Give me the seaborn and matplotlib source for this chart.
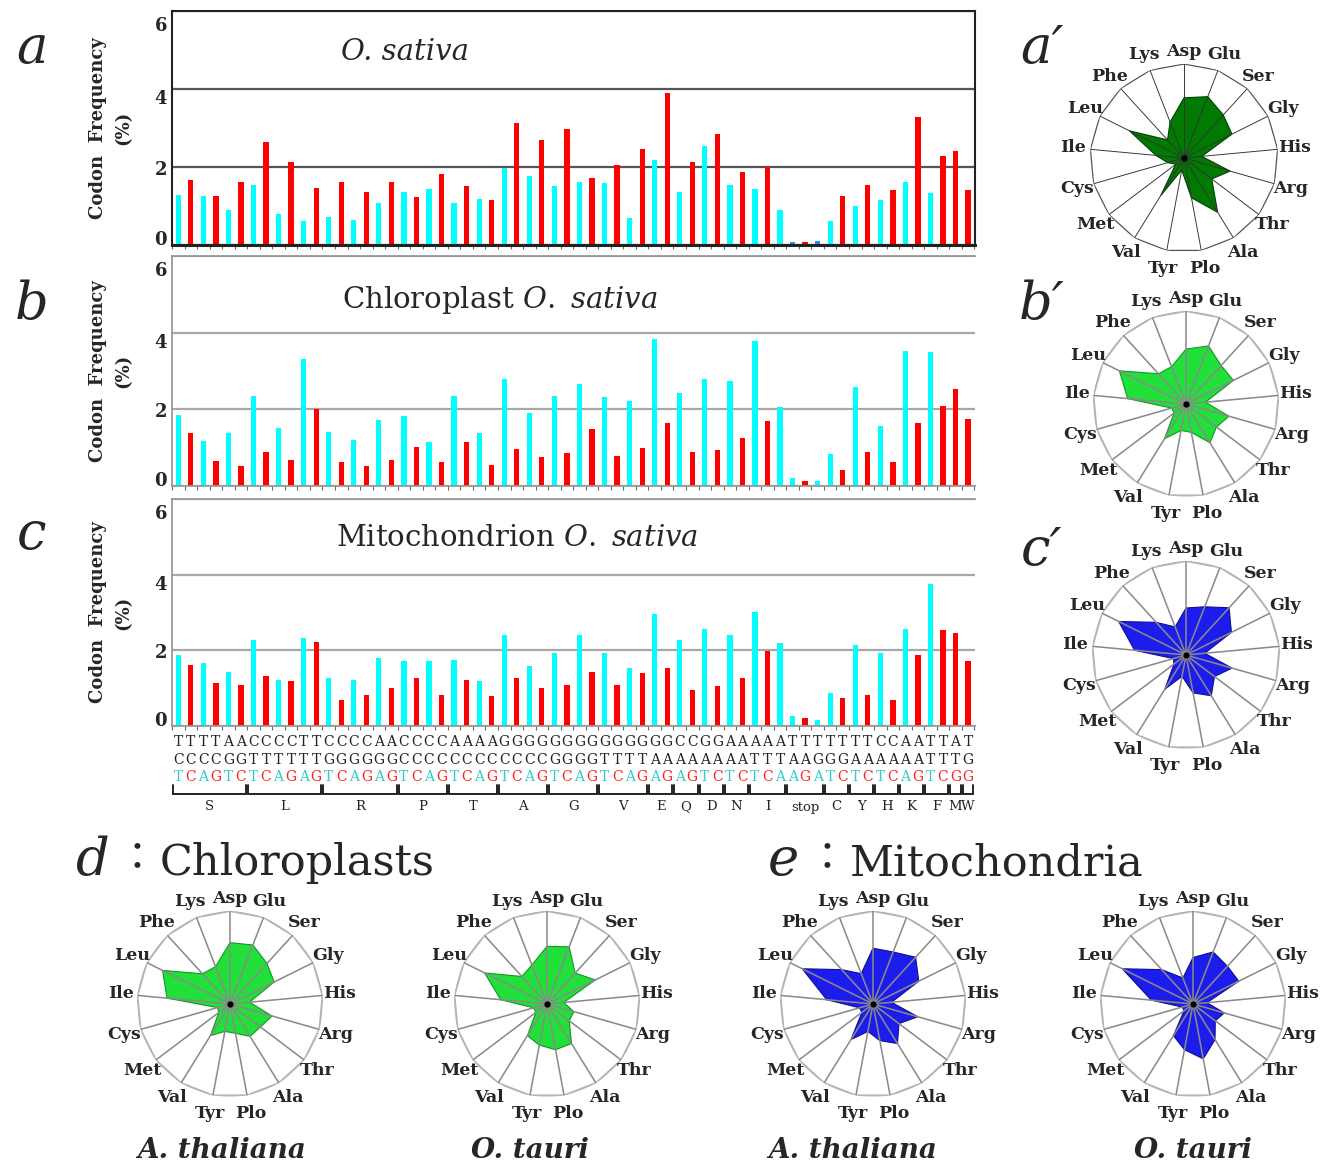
import numpy as np
import pandas as pd
import matplotlib
matplotlib.use("Agg")
import matplotlib.pyplot as plt
from matplotlib.transforms import blended_transform_factory, ScaledTranslation
import seaborn as sns

sns.set_theme(style="white")
plt.rcParams['font.family'] = ['DejaVu Serif', 'Noto Sans CJK JP']
plt.rcParams['mathtext.fontset'] = 'dejavuserif'

# ---------------------------------------------------------------- data
codons = ["TCT", "TCC", "TCA", "TCG", "AGT", "AGC",
          "CTT", "CTC", "CTA", "CTG", "TTA", "TTG",
          "CGT", "CGC", "CGA", "CGG", "AGA", "AGG",
          "CCT", "CCC", "CCA", "CCG",
          "ACT", "ACC", "ACA", "ACG",
          "GCT", "GCC", "GCA", "GCG",
          "GGT", "GGC", "GGA", "GGG",
          "GTT", "GTC", "GTA", "GTG",
          "GAA", "GAG", "CAA", "CAG", "GAT", "GAC", "AAT", "AAC",
          "ATT", "ATC", "ATA", "TAA", "TAG", "TGA",
          "TGT", "TGC", "TAT", "TAC", "CAT", "CAC", "AAA", "AAG",
          "TTT", "TTC", "ATG", "TGG"]

aa_groups = ["S", "L", "R", "P", "T", "A", "G", "V", "E", "Q", "D", "N",
             "I", "stop", "C", "Y", "H", "K", "F", "M", "W"]
aa_sizes = [6, 6, 6, 4, 4, 4, 4, 4, 2, 2, 2, 2, 3, 3, 2, 2, 2, 2, 2, 1, 1]

freq_nuclear = [1.29, 1.66, 1.26, 1.26, 0.90, 1.62, 1.54, 2.63, 0.79, 2.12,
                0.61, 1.47, 0.72, 1.62, 0.65, 1.36, 1.08, 1.62, 1.36, 1.22,
                1.44, 1.83, 1.08, 1.51, 1.19, 1.16, 1.98, 3.13, 1.76, 2.69,
                1.51, 2.98, 1.62, 1.72, 1.58, 2.05, 0.69, 2.45, 2.19, 3.91,
                1.36, 2.12, 2.55, 2.84, 1.54, 1.87, 1.44, 2.00, 0.90, 0.08,
                0.08, 0.11, 0.61, 1.26, 1.01, 1.54, 1.16, 1.41, 1.62, 3.27,
                1.33, 2.27, 2.41, 1.41]

freq_chloroplast = [1.86, 1.38, 1.17, 0.65, 1.38, 0.51, 2.35, 0.90, 1.52, 0.69,
                    3.32, 2.00, 1.42, 0.62, 1.21, 0.51, 1.73, 0.69, 1.83, 1.03,
                    1.14, 0.62, 2.35, 1.14, 1.38, 0.55, 2.80, 0.97, 1.90, 0.76,
                    2.35, 0.86, 2.66, 1.49, 2.31, 0.79, 2.21, 1.00, 3.84, 1.65,
                    2.42, 0.90, 2.80, 0.93, 2.73, 1.24, 3.77, 1.70, 2.07, 0.20,
                    0.13, 0.13, 0.83, 0.41, 2.59, 0.90, 1.56, 0.62, 3.53, 1.65,
                    3.50, 2.10, 2.52, 1.76]

freq_mito = [1.88, 1.62, 1.67, 1.14, 1.44, 1.09, 2.28, 1.31, 1.22, 1.18,
             2.32, 2.23, 1.27, 0.70, 1.22, 0.83, 1.80, 1.00, 1.71, 1.27,
             1.71, 0.83, 1.75, 1.22, 1.18, 0.78, 2.41, 1.27, 1.58, 1.00,
             1.92, 1.09, 2.41, 1.44, 1.92, 1.09, 1.53, 1.40, 2.97, 1.53,
             2.27, 0.96, 2.57, 1.05, 2.41, 1.27, 3.01, 1.97, 2.19, 0.26,
             0.22, 0.17, 0.87, 0.74, 2.14, 0.83, 1.92, 0.70, 2.57, 1.88,
             3.76, 2.54, 2.45, 1.71]

y_ticks = [0, 2, 4, 6]

aa_labels = ["Asp", "Glu", "Ser", "Gly", "His", "Arg", "Thr", "Ala", "Plo",
             "Tyr", "Val", "Met", "Cys", "Ile", "Leu", "Phe", "Lys"]

radar_nuclear = [0.64, 0.70, 0.62, 0.57, 0.19, 0.51, 0.37, 0.68, 0.43, 0.13,
                 0.47, 0.11, 0.18, 0.30, 0.65, 0.26, 0.41]
radar_chloroplast = [0.59, 0.67, 0.56, 0.57, 0.21, 0.48, 0.41, 0.49, 0.31, 0.29,
                     0.44, 0.16, 0.16, 0.63, 0.80, 0.44, 0.43]
radar_mito = [0.50, 0.55, 0.68, 0.54, 0.20, 0.51, 0.38, 0.51, 0.41, 0.23,
              0.43, 0.16, 0.14, 0.55, 0.80, 0.47, 0.32]
radar_at_chloro = [0.66, 0.68, 0.59, 0.53, 0.21, 0.47, 0.41, 0.41, 0.32, 0.30,
                   0.40, 0.15, 0.14, 0.68, 0.81, 0.44, 0.43]
radar_ot_chloro = [0.62, 0.66, 0.45, 0.58, 0.18, 0.30, 0.30, 0.50, 0.50, 0.45,
                   0.40, 0.15, 0.15, 0.50, 0.75, 0.40, 0.45]
radar_at_mito = [0.60, 0.60, 0.68, 0.55, 0.20, 0.50, 0.35, 0.50, 0.40, 0.30,
                 0.45, 0.15, 0.15, 0.50, 0.85, 0.50, 0.35]
radar_ot_mito = [0.50, 0.60, 0.55, 0.55, 0.15, 0.35, 0.30, 0.45, 0.60, 0.50,
                 0.40, 0.12, 0.12, 0.45, 0.85, 0.50, 0.30]

# ---------------------------------------------------------------- layout
W, H = 1323, 1166
fig = plt.figure(figsize=(W / 100, H / 100), dpi=100)
fig.patch.set_facecolor("white")

CYAN, RED, DEEPBLUE = "#00ffff", "#ff0000", "#1e8fe8"
serif = ['DejaVu Serif', 'Noto Sans CJK JP']


def rect(left, top, right, bottom):
    return [left / W, 1 - bottom / H, (right - left) / W, (bottom - top) / H]


def fxy(x, y):
    return x / W, 1 - y / H


third = [c[2] for c in codons]
ending = ["AT" if b in "AT" else "GC" for b in third]
codon_aa = sum([[g] * n for g, n in zip(aa_groups, aa_sizes)], [])

panels = [
    dict(vals=freq_nuclear, top=11, bottom=245, spine="#222222", grid="#555555",
         title="O. sativa", title_italic=True, title_xy=(405, 52),
         stop_blue=True, right=True),
    dict(vals=freq_chloroplast, top=256, bottom=486, spine="#999999", grid="#a8a8a8",
         title="Chloroplast $\\mathit{O.\\ sativa}$", title_italic=False,
         title_xy=(500, 300), stop_blue=False, right=False),
    dict(vals=freq_mito, top=499, bottom=726, spine="#999999", grid="#a8a8a8",
         title="Mitochondrion $\\mathit{O.\\ sativa}$", title_italic=False,
         title_xy=(517, 538), stop_blue=False, right=False),
]

# vertical nudges (pixels, positive = up) of the y tick labels 0, 2, 4, 6
tick_nudge = [5, -3, -10, -15]

bar_axes = []
for p in panels:
    ax = fig.add_axes(rect(172, p["top"], 975, p["bottom"]))
    cls = list(ending)
    if p["stop_blue"]:
        cls = ["stop" if (a == "stop" and e == "AT") else e
               for a, e in zip(codon_aa, ending)]
    df = pd.DataFrame({"pos": np.arange(len(codons)), "freq": p["vals"], "cls": cls})
    sns.barplot(data=df, x="pos", y="freq", hue="cls",
                palette={"AT": CYAN, "GC": RED, "stop": DEEPBLUE},
                dodge=False, width=0.42, linewidth=0, saturation=1,
                legend=False, ax=ax)
    ax.set_xlim(-0.4, 63.55)
    ax.set_ylim(0, 6)
    ax.set_xlabel("")
    ax.set_ylabel("")
    ax.set_yticks(y_ticks)
    ax.set_yticklabels([])
    ytr = ax.get_yaxis_transform()
    for v, dy in zip(y_ticks, tick_nudge):
        ax.text(-0.006, v, str(v), ha="right", va="center", fontsize=13,
                fontweight="bold", family=serif,
                transform=ytr + ScaledTranslation(0, dy / 100, fig.dpi_scale_trans))
    ax.set_xticks(np.arange(-0.5, 64, 1))
    ax.set_xticklabels([])
    ax.tick_params(axis="x", bottom=True, length=3, width=0.8,
                   color="#666666", direction="out")
    ax.tick_params(axis="y", left=False)
    ax.set_axisbelow(True)
    ax.grid(axis="y", color=p["grid"], lw=1.6)
    ax.grid(axis="x", visible=False)
    for side in ["left", "top", "bottom", "right"]:
        ax.spines[side].set_color(p["spine"])
        ax.spines[side].set_linewidth(1.5 if p["right"] else 1.3)
    ax.spines["right"].set_visible(p["right"])
    if p["right"]:
        ax.spines["bottom"].set_linewidth(2.2)
    ax.text(-0.076, 0.5, "Codon  Frequency\n(%)", transform=ax.transAxes,
            rotation=90, ha="center", va="center", multialignment="center",
            fontsize=13, fontweight="bold", linespacing=1.5, family=serif)
    tx, ty = fxy(*p["title_xy"])
    fig.text(tx, ty, p["title"], ha="center", va="center", fontsize=21,
             fontstyle="italic" if p["title_italic"] else "normal", family=serif)
    bar_axes.append(ax)

# codon letters and amino-acid brackets under the last panel
axc = bar_axes[-1]
tr = blended_transform_factory(axc.transData, fig.transFigure)
row_y = [742, 760, 777]
for i, c in enumerate(codons):
    for k in range(3):
        if k < 2:
            col = "#222222"
        else:
            col = "#33cccc" if c[2] in "AT" else "#ff2020"
        axc.text(i, 1 - row_y[k] / H, c[k], transform=tr, ha="center",
                 va="center", fontsize=10, color=col, family=serif)

start = 0
for g, n in zip(aa_groups, aa_sizes):
    x0, x1 = start - 0.42, start + n - 1 + 0.42
    yb, yt = 1 - 794 / H, 1 - 785 / H
    axc.plot([x0, x0, x1, x1], [yt, yb, yb, yt], transform=tr, color="#111111",
             lw=1.3, clip_on=False, solid_joinstyle="miter")
    axc.text((x0 + x1) / 2, 1 - 807 / H, g, transform=tr, ha="center",
             va="center", fontsize=9.5, color="#222222", family=serif)
    start += n

# panel letters
for lab, (x, y) in {"a": (32, 48), "b": (32, 305), "c": (32, 535),
                    "a\u2032": (1042, 48), "b\u2032": (1042, 305),
                    "c\u2032": (1042, 550)}.items():
    fx, fy = fxy(x, y)
    fig.text(fx, fy, lab, ha="center", va="center", fontsize=38,
             fontstyle="italic", family=serif)

# ---------------------------------------------------------------- radars
theta = np.arange(len(aa_labels)) * 2 * np.pi / len(aa_labels)


def radar(cx, cy, R, values, fill, edge, ring, spoke, lw):
    ax = fig.add_axes(rect(cx - R, cy - R, cx + R, cy + R), projection="polar")
    ax.set_theta_zero_location("N")
    ax.set_theta_direction(-1)
    ax.set_ylim(0, 1)
    ax.set_axis_off()
    th = np.r_[theta, theta[0]]
    v = np.r_[values, values[0]]
    ax.fill(th, v, facecolor=fill, edgecolor=edge, lw=0.8, zorder=2)
    ax.plot(th, np.ones_like(th), color=ring, lw=lw, zorder=1)
    for t in theta:
        ax.plot([t, t], [0, 1], color=spoke, lw=lw * 0.75, zorder=3)
    ax.plot([0], [0], "o", ms=3.5, color="black", zorder=4)
    for t, lab in zip(theta, aa_labels):
        r = {"Asp": 1.13, "Tyr": 1.2, "Plo": 1.2}.get(lab, 1.18)
        ax.text(t, r, lab, ha="center", va="center", fontsize=12.5,
                fontweight="bold", family=serif, clip_on=False)
    return ax


DARKGREEN, GREEN, BLUE = "#007a00", "#22e03a", "#1c1ced"
radar(1184, 158, 94, radar_nuclear, DARKGREEN, "#004400", "#555555", "#333333", 0.9)
radar(1186, 404, 93, radar_chloroplast, GREEN, "#119922", "#b4b4b4", "#8a8a8a", 1.5)
radar(1186, 655, 94, radar_mito, BLUE, "#101090", "#b4b4b4", "#8a8a8a", 1.5)
radar(230, 1004, 93, radar_at_chloro, GREEN, "#119922", "#b4b4b4", "#8a8a8a", 1.5)
radar(547, 1004, 93, radar_ot_chloro, GREEN, "#119922", "#b4b4b4", "#8a8a8a", 1.5)
radar(873, 1004, 93, radar_at_mito, BLUE, "#101090", "#b4b4b4", "#8a8a8a", 1.5)
radar(1193, 1004, 93, radar_ot_mito, BLUE, "#101090", "#b4b4b4", "#8a8a8a", 1.5)

# section headings and species names
for letter, word, x0 in [("d", "Chloroplasts", 75), ("e", "Mitochondria", 765)]:
    fx, fy = fxy(x0 + 18, 860)
    fig.text(fx, fy, letter, ha="center", va="center", fontsize=38,
             fontstyle="italic", family=serif)
    fx, fy = fxy(x0 + 62, 858)
    fig.text(fx, fy, "\uff1a", ha="center", va="center", fontsize=28,
             family=['Noto Sans CJK JP'])
    fx, fy = fxy(x0 + 85, 863)
    fig.text(fx, fy, word, ha="left", va="center", fontsize=31, family=serif)

for name, x in [("A. thaliana", 222), ("O. tauri", 530),
                ("A. thaliana", 853), ("O. tauri", 1193)]:
    fx, fy = fxy(x, 1150)
    fig.text(fx, fy, name, ha="center", va="center", fontsize=20,
             fontstyle="italic", fontweight="bold", family=serif)

fig.savefig("out.png", dpi=100, facecolor="white")
